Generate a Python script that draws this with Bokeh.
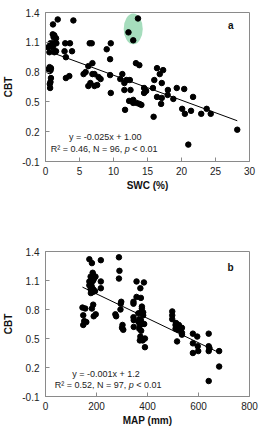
import numpy as np
from bokeh.plotting import figure
from bokeh.layouts import column
from bokeh.models import Range1d, FixedTicker, Label
from bokeh.embed import file_html
from bokeh.resources import INLINE

FONT = "Liberation Sans"

# Panel a: CBT against soil water content
swc = [1.8, 1.1, 4.1, 1.07, 1.3, 1.2, 1.55, 0.73, 1.1, 1.6, 0.39, 1.1, 0.58, 1.3,
       1.55, 2.9, 3.6, 2.8, 3.9, 3.0, 3.0, 3.5, 0.6, 0.8, 0.5, 0.75, 0.6, 0.8, 0.73,
       0.63, 0.68, 6.5, 6.8, 6.3, 6.9, 5.6, 5.9, 6.9, 7.2, 6.3, 6.6, 7.2, 7.6, 7.8,
       8.1, 9.0, 9.6, 9.5, 9.5, 9.6, 11.3, 11.0, 11.9, 11.6, 12.4, 11.6, 12.5, 11.7,
       12.3, 12.9, 12.9, 13.4, 13.8, 14.1, 13.3, 13.8, 12.2, 12.9, 13.6, 14.5, 14.8,
       14.5, 15.8, 16.0, 15.9, 16.4, 16.8, 16.4, 17.0, 17.1, 17.3, 17.1, 18.0, 17.96,
       18.8, 19.3, 20.1, 20.4, 20.5, 21.4, 21.0, 21.7, 22.9, 23.7, 24.3, 28.2]
cbt_a = [1.33, 1.28, 1.32, 1.18, 1.17, 1.15, 1.14, 1.09, 1.09, 1.09, 1.05, 1.05, 1.0,
         1.0, 1.01, 1.09, 1.09, 1.01, 1.01, 0.95, 0.74, 0.76, 0.85, 0.84, 0.83, 0.82,
         0.81, 0.74, 0.70, 0.68, 0.64, 1.09, 1.09, 0.86, 0.89, 0.78, 0.80, 0.78, 0.78,
         0.66, 0.69, 0.66, 0.67, 0.75, 0.73, 1.03, 1.09, 0.93, 0.77, 0.59, 0.78, 0.73,
         0.72, 0.69, 0.72, 0.62, 0.62, 0.42, 0.51, 0.52, 0.49, 0.49, 0.48, 0.47, 0.89,
         0.87, 1.20, 1.12, 1.34, 0.64, 0.61, 0.59, 0.64, 0.72, 0.35, 0.84, 0.78, 0.55,
         0.48, 0.54, 0.82, 0.69, 0.62, 0.57, 0.53, 0.64, 0.43, 0.63, 0.38, 0.41, 0.07,
         0.55, 0.38, 0.43, 0.38, 0.22]
highlight_a = [66, 67, 68]   # the three circled samples

# Panel b: CBT against mean annual precipitation
map_mm = [145, 156, 148, 152, 148, 160,
          172, 182, 217, 177, 185, 187, 196, 172, 181, 187, 172, 181, 177, 187, 194,
          217, 217, 187, 182, 197, 189, 178,
          288, 290, 288, 297, 295, 274, 277, 294, 302, 305,
          357, 386, 372, 357, 374, 345, 345, 378, 378, 345, 346, 346, 364, 374, 383,
          368, 374, 365, 381, 387, 370, 368, 372, 370, 381, 390, 390,
          497, 497, 497, 510, 516, 510, 523, 519, 516, 535, 535, 535,
          578, 595, 578, 597, 578, 599,
          640, 640, 643, 640, 640, 681, 681,
          177, 190, 185, 300, 375, 512, 383]
cbt_b = [0.82, 0.81, 0.74, 0.68, 0.64, 0.67,
         1.32, 1.28, 1.31, 1.14, 1.18, 1.16, 1.14, 1.09, 1.08, 1.10, 1.05, 1.04, 1.01,
         1.01, 0.99, 1.09, 1.02, 0.85, 0.81, 0.75, 0.73, 0.97,
         1.34, 1.20, 1.12, 0.88, 0.86, 0.75, 0.73, 0.80, 0.64, 0.59,
         1.09, 1.08, 1.02, 0.93, 0.92, 0.88, 0.86, 0.83, 0.81, 0.72, 0.69, 0.62, 0.76,
         0.77, 0.77, 0.70, 0.69, 0.67, 0.65, 0.65, 0.64, 0.60, 0.52, 0.48, 0.48, 0.50,
         0.41,
         0.78, 0.74, 0.70, 0.64, 0.62, 0.60, 0.64, 0.59, 0.47, 0.61, 0.56, 0.54,
         0.55, 0.52, 0.45, 0.42, 0.35, 0.37,
         0.55, 0.42, 0.40, 0.37, 0.06, 0.37, 0.21,
         1.07, 1.12, 0.98, 0.61, 0.58, 0.66, 0.74]

y_ticks = [-0.1, 0.2, 0.5, 0.8, 1.1, 1.4]
y_tick_labels = ["-0.1", "0.2", "0.5", "0.8", "1.1", "1.4"]
x_ticks_a = [0, 5, 10, 15, 20, 25, 30]
x_ticks_b = [0, 200, 400, 600, 800]

eq_a = "y = -0.025x + 1.00"
stats_a = ("R\u00b2 = 0.46, N = 96,", "< 0.01")
eq_b = "y = -0.001x + 1.2"
stats_b = ("R\u00b2 = 0.52, N = 97,", "< 0.01")

FRAME = "#8a8a8a"
TEXT = "#222222"


def make_panel(x, y, xr, xticks, xlabel, height, top, bottom):
    p = figure(width=265, height=height, output_backend="svg", toolbar_location=None,
               x_range=Range1d(*xr), y_range=Range1d(-0.1, 1.4),
               min_border_left=42, min_border_right=16,
               min_border_top=top, min_border_bottom=bottom)
    p.xgrid.visible = False
    p.ygrid.visible = False
    p.outline_line_color = FRAME
    p.outline_line_width = 1
    p.background_fill_color = "white"
    p.border_fill_color = "white"

    p.xaxis.ticker = FixedTicker(ticks=xticks)
    p.yaxis.ticker = FixedTicker(ticks=y_ticks)
    p.yaxis.major_label_overrides = {t: s for t, s in zip(y_ticks, y_tick_labels)}
    for ax in (p.xaxis, p.yaxis):
        ax.axis_line_color = FRAME
        ax.major_tick_line_color = FRAME
        ax.major_tick_in = 4
        ax.major_tick_out = 0
        ax.minor_tick_line_color = None
        ax.major_label_text_font = FONT
        ax.major_label_text_font_size = "10px"
        ax.major_label_text_color = TEXT
        ax.axis_label_text_font = FONT
        ax.axis_label_text_font_size = "10px"
        ax.axis_label_text_font_style = "bold"
        ax.axis_label_text_color = "#111111"
    p.xaxis.major_label_standoff = 5
    p.xaxis.axis_label_standoff = 2
    p.yaxis.major_label_standoff = 6
    p.yaxis.axis_label_standoff = 5
    p.xaxis.axis_label = xlabel
    p.yaxis.axis_label = "CBT"

    # least-squares trend line over the sampled range
    slope, intercept = np.polyfit(x, y, 1)
    xs = np.array([min(x), max(x)])
    p.line(xs, slope * xs + intercept, line_color="black", line_width=1)
    return p


def add_text(p, x, y, text, align="center", style="normal", x_offset=0, size="9px",
             color=TEXT):
    p.add_layout(Label(x=x, y=y, text=text, text_align=align, text_baseline="middle",
                       text_font=FONT, text_font_size=size, text_font_style=style,
                       text_color=color, x_offset=x_offset))


def add_stats(p, x, y, stats):
    add_text(p, x, y, stats[0], align="right")
    add_text(p, x, y, "p", align="left", style="italic", x_offset=2.5)
    add_text(p, x, y, stats[1], align="left", x_offset=10)


# ---- panel a ----
pa = make_panel(swc, cbt_a, (0, 30), x_ticks_a, "SWC (%)", 196, 12, 35)
hx = [swc[i] for i in highlight_a]
hy = [cbt_a[i] for i in highlight_a]
pa.ellipse(x=[(min(hx) + max(hx)) / 2], y=[(min(hy) + max(hy)) / 2 + 0.005],
           width=[max(hx) - min(hx) + 1.4], height=[max(hy) - min(hy) + 0.09],
           fill_color="#a6ddbd", line_color=None)
pa.scatter(swc, cbt_a, size=5.5, color="black")
add_text(pa, 27.25, 1.27, "a", style="bold", size="10px", color="#111111")
add_text(pa, 8.8, 0.142, eq_a)
add_stats(pa, 11.3, 0.021, stats_a)

# ---- panel b ----
pb = make_panel(map_mm, cbt_b, (0, 800), x_ticks_b, "MAP (mm)", 232, 55, 29)
pb.scatter(map_mm, cbt_b, size=5.5, color="black")
add_text(pb, 726, 1.238, "b", style="bold", size="10px", color="#111111")
add_text(pb, 237, 0.129, eq_b)
add_stats(pb, 317, 0.022, stats_b)

layout = column(pa, pb, spacing=0)
open("out.html", "w").write(file_html(layout, INLINE))
